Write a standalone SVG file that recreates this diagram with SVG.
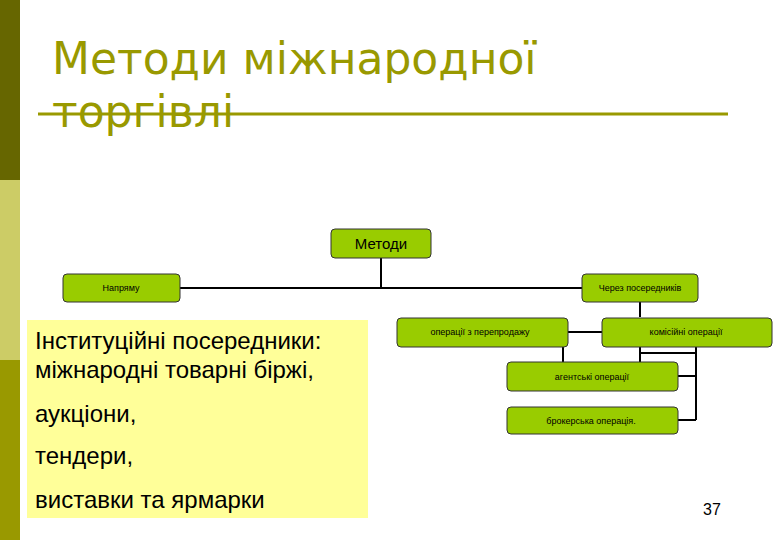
<svg xmlns="http://www.w3.org/2000/svg" width="780" height="540" viewBox="0 0 780 540">
<style>
.node rect{fill:#99cc00;stroke:#333;stroke-width:1}
.nt{font-family:"Liberation Sans",Arial,sans-serif;fill:#000;text-anchor:middle}
.small{font-size:9px}
.conn{stroke:#000;stroke-width:2;fill:none}
.title{font-family:"DejaVu Sans",sans-serif;font-size:44px;fill:#999900}
.body{font-family:"Liberation Sans",Arial,sans-serif;font-size:24px;fill:#000}
</style>
<rect width="780" height="540" fill="#fff"/>
<g id="sidebar">
<rect x="0" y="0" width="20" height="180" fill="#666600"/>
<rect x="0" y="180" width="20" height="180" fill="#cccc66"/>
<rect x="0" y="360" width="20" height="180" fill="#999900"/>
</g>
<g id="title">
<text class="title" x="52" y="74">Методи міжнародної</text>
<text class="title" x="52" y="127">торгівлі</text>
<line x1="38" y1="114" x2="728" y2="114" stroke="#999900" stroke-width="3"/>
</g>
<g id="connectors" class="conn">
<path d="M381 258V288M180 288H582"/>
<path d="M640 302V317"/>
<path d="M568 332H602"/>
<path d="M563 347V362"/>
<path d="M640 347V362M640 353H696M696 347V420M678 376H696M678 420H696"/>
</g>
<g id="n-metody" class="node"><rect x="331" y="229" width="100" height="29" rx="4"/><text class="nt" x="381" y="249" font-size="15">Методи</text></g>
<g id="n-napryamu" class="node"><rect x="63" y="274" width="117" height="28" rx="4"/><text class="nt small" x="121" y="291">Напряму</text></g>
<g id="n-cherez" class="node"><rect x="582" y="274" width="116" height="28" rx="4"/><text class="nt small" x="640" y="291">Через посередників</text></g>
<g id="n-pereprodazh" class="node"><rect x="397" y="318" width="171" height="29" rx="4"/><text class="nt small" x="480" y="335">операції з перепродажу</text></g>
<g id="n-komisiyni" class="node"><rect x="602" y="318" width="170" height="29" rx="4"/><text class="nt small" x="686" y="335">комісійні операції</text></g>
<g id="n-agentski" class="node"><rect x="507" y="362" width="171" height="29" rx="4"/><text class="nt small" x="592" y="380">агентські операції</text></g>
<g id="n-brokerska" class="node"><rect x="507" y="407" width="171" height="27" rx="4"/><text class="nt small" x="591" y="424">брокерська операція.</text></g>
<g id="note">
<rect x="27" y="320" width="341" height="198" fill="#ffff99"/>
<text class="body" x="35" y="349">Інституційні посередники:</text>
<text class="body" x="35" y="378">міжнародні товарні біржі,</text>
<text class="body" x="35" y="422">аукціони,</text>
<text class="body" x="35" y="464">тендери,</text>
<text class="body" x="35" y="508">виставки та ярмарки</text>
</g>
<text id="pagenum" x="712" y="515" font-family="Liberation Sans,Arial,sans-serif" font-size="16" text-anchor="middle" fill="#000">37</text>
</svg>
